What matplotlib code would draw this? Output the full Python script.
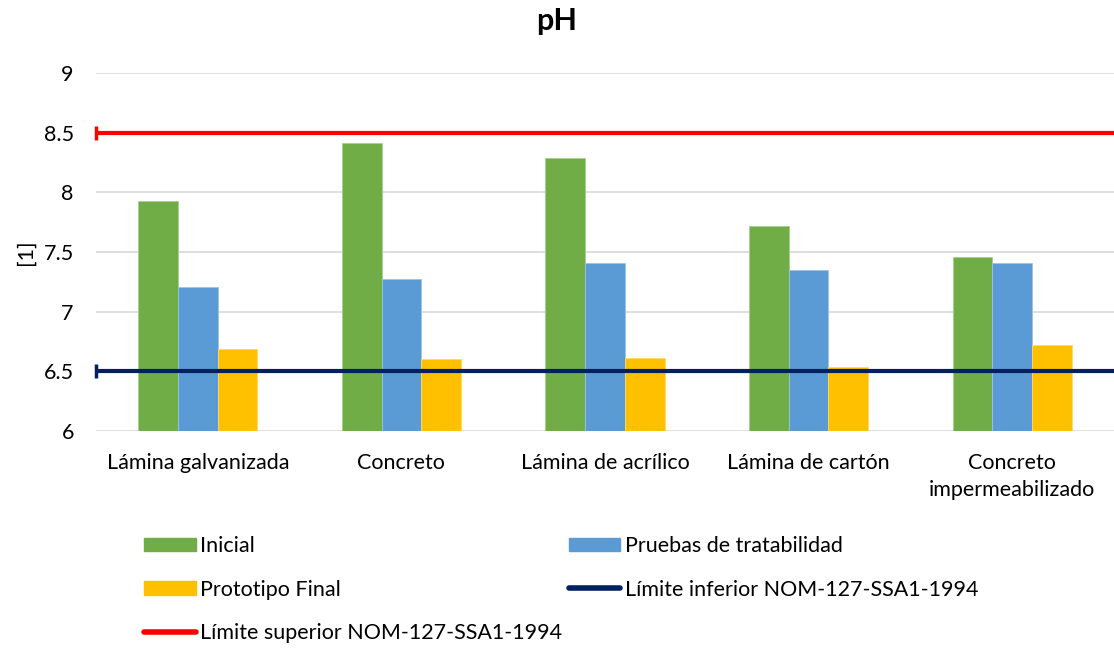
import numpy as np
import matplotlib
matplotlib.use('Agg')
import matplotlib.pyplot as plt
from matplotlib.patches import Patch
from matplotlib.lines import Line2D

plt.rcParams['font.family'] = ['Lato', 'DejaVu Sans']

## Datos
categorias = ['Lámina galvanizada', 'Concreto', 'Lámina de acrílico',
              'Lámina de cartón', 'Concreto\nimpermeabilizado']
inicial = [7.93, 8.41, 8.29, 7.72, 7.46]
pruebas = [7.21, 7.27, 7.41, 7.35, 7.41]
prototipo = [6.69, 6.60, 6.61, 6.54, 6.72]
lim_inferior = 6.5
lim_superior = 8.5
yticks = [6, 6.5, 7, 7.5, 8, 8.5, 9]

fig = plt.figure(figsize=(11.14, 6.49), dpi=100)
ax = fig.add_axes([0.0862, 0.3359, 0.9138, 0.5516])

x = np.arange(len(categorias))
w = 0.195
ax.bar(x - w, inicial, w, color='#70AD47', edgecolor='#A9D18E', linewidth=0.6, zorder=2)
ax.bar(x, pruebas, w, color='#5B9BD5', edgecolor='#9DC3E6', linewidth=0.6, zorder=2)
ax.bar(x + w, prototipo, w, color='#FFC000', edgecolor='#FFD966', linewidth=0.6, zorder=2)

ax.set_xlim(-0.5, len(categorias) - 0.5)
ax.set_ylim(yticks[0], yticks[-1])

# lineas de limite con tope a la izquierda
x0 = ax.get_xlim()[0]
for lim, col in [(lim_superior, '#FF0000'), (lim_inferior, '#002060')]:
    ax.axhline(lim, color=col, lw=3, zorder=3)
    ax.plot(x0, lim, marker='|', ms=10, mew=2.5, color=col, zorder=4, clip_on=False)

ax.set_yticks(yticks)
ax.set_yticklabels(['6', '6.5', '7', '7.5', '8', '8.5', '9'])
ax.set_xticks(x)
ax.set_xticklabels(categorias)
ax.tick_params(axis='both', length=0, labelsize=15.5, colors='#000000')
ax.tick_params(axis='y', pad=16)
ax.tick_params(axis='x', pad=16)
for lbl in ax.get_xticklabels():
    lbl.set_linespacing(1.4)
ax.grid(axis='y', color='#D9D9D9', lw=1.2, zorder=0)
for s in ['top', 'right', 'left', 'bottom']:
    ax.spines[s].set_visible(False)

ax.set_ylabel('[1]', fontsize=15.5, labelpad=6)
fig.text(0.5, 0.968, 'pH', ha='center', va='center', fontsize=22, fontweight='bold')

handles = [
    Patch(color='#70AD47', label='Inicial'),
    Patch(color='#FFC000', label='Prototipo Final'),
    Line2D([0], [0], color='#FF0000', lw=4, solid_capstyle='round',
           label='Límite superior NOM-127-SSA1-1994'),
    Patch(color='#5B9BD5', label='Pruebas de tratabilidad'),
    Line2D([0], [0], color='#002060', lw=4, solid_capstyle='round',
           label='Límite inferior NOM-127-SSA1-1994'),
]
fig.legend(handles=handles, ncol=2, loc='upper left', bbox_to_anchor=(0.112, 0.204),
           frameon=False, fontsize=15.5, handlelength=2.4, handleheight=0.6,
           handletextpad=0.2, labelspacing=1.1, columnspacing=0.3)

fig.savefig('out.png', dpi=100)
